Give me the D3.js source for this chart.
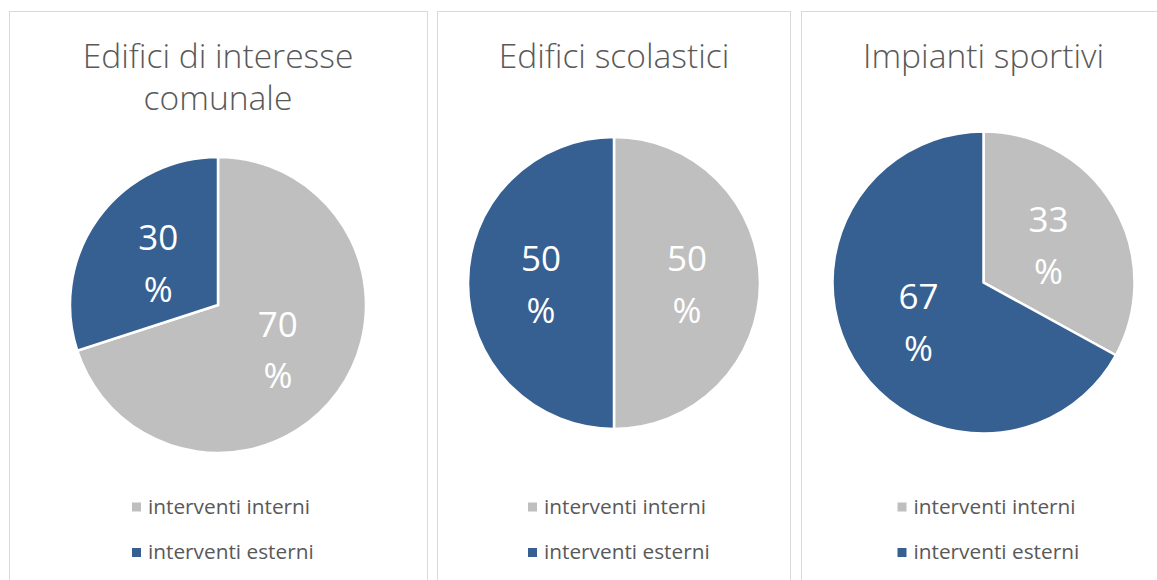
<!DOCTYPE html>
<html>
<head>
<meta charset="utf-8">
<script src="https://cdn.jsdelivr.net/npm/d3@7"></script>
<style>
  html, body { margin: 0; padding: 0; background: #fff; }
  svg { display: block; }
  text { font-family: "Open Sans", "Noto Sans", sans-serif; }
</style>
</head>
<body>
<svg id="chart" width="1157" height="580"></svg>
<script>
// Share of works by type of municipal building
const panelTitles = [
  ["Edifici di interesse", "comunale"],
  ["Edifici scolastici"],
  ["Impianti sportivi"]
];
const categories = ["interventi interni", "interventi esterni"];
const interni = [70, 50, 33];
const esterni = [30, 50, 67];

const colors = d3.scaleOrdinal().domain(categories).range(["#bfbfbf", "#376092"]);

// panel frames and pie geometry
const frames = [
  { x0: 9.5, x1: 427.5, cx: 218, cy: 305, r: 148 },
  { x0: 437.5, x1: 790.5, cx: 614, cy: 283, r: 146 },
  { x0: 801.5, x1: 1170, cx: 983.5, cy: 282.5, r: 151 }
];

const svg = d3.select("#chart");
const pie = d3.pie().sort(null).value(d => d.value);

frames.forEach((f, i) => {
  const g = svg.append("g");

  g.append("rect")
    .attr("x", f.x0).attr("y", 11.5)
    .attr("width", f.x1 - f.x0).attr("height", 620)
    .attr("fill", "#fff")
    .attr("stroke", "#d9d9d9").attr("stroke-width", 1);

  // title
  const title = g.append("text")
    .attr("x", f.cx).attr("y", 68)
    .attr("text-anchor", "middle")
    .attr("fill", "#595959")
    .attr("font-weight", 300)
    .attr("font-size", 33.6);
  panelTitles[i].forEach((line, k) => {
    title.append("tspan").attr("x", f.cx).attr("dy", k === 0 ? 0 : 42).text(line);
  });

  // pie
  const data = categories.map((c, k) => ({ cat: c, value: [interni, esterni][k][i] }));
  const arcs = pie(data);
  const arc = d3.arc().innerRadius(0).outerRadius(f.r);
  const labelArc = d3.arc().innerRadius(f.r / 2).outerRadius(f.r / 2);

  const pg = g.append("g").attr("transform", `translate(${f.cx},${f.cy})`);
  pg.selectAll("path").data(arcs).join("path")
    .attr("d", arc)
    .attr("fill", d => colors(d.data.cat))
    .attr("stroke", "#fff").attr("stroke-width", 2.5)
    .attr("stroke-linejoin", "miter");

  pg.selectAll("text.lbl").data(arcs).join("text")
    .attr("class", "lbl")
    .attr("text-anchor", "middle")
    .attr("fill", "#fff")
    .attr("font-size", 35)
    .each(function (d) {
      const [x, y] = labelArc.centroid(d);
      const t = d3.select(this);
      t.append("tspan").attr("x", x).attr("y", y - 12).text(d.data.value);
      t.append("tspan").attr("x", x).attr("y", y + 40).text("%");
    });

  // legend
  const lx = f.cx - 86;
  const lg = g.append("g");
  categories.forEach((c, k) => {
    const yc = 507 + k * 45.5;
    lg.append("rect")
      .attr("x", lx).attr("y", yc - 4.5)
      .attr("width", 9).attr("height", 9)
      .attr("fill", colors(c));
    lg.append("text")
      .attr("x", lx + 16).attr("y", yc + 6.5)
      .attr("fill", "#595959")
      .attr("font-size", 20.8)
      .text(c);
  });
});
</script>
</body>
</html>
